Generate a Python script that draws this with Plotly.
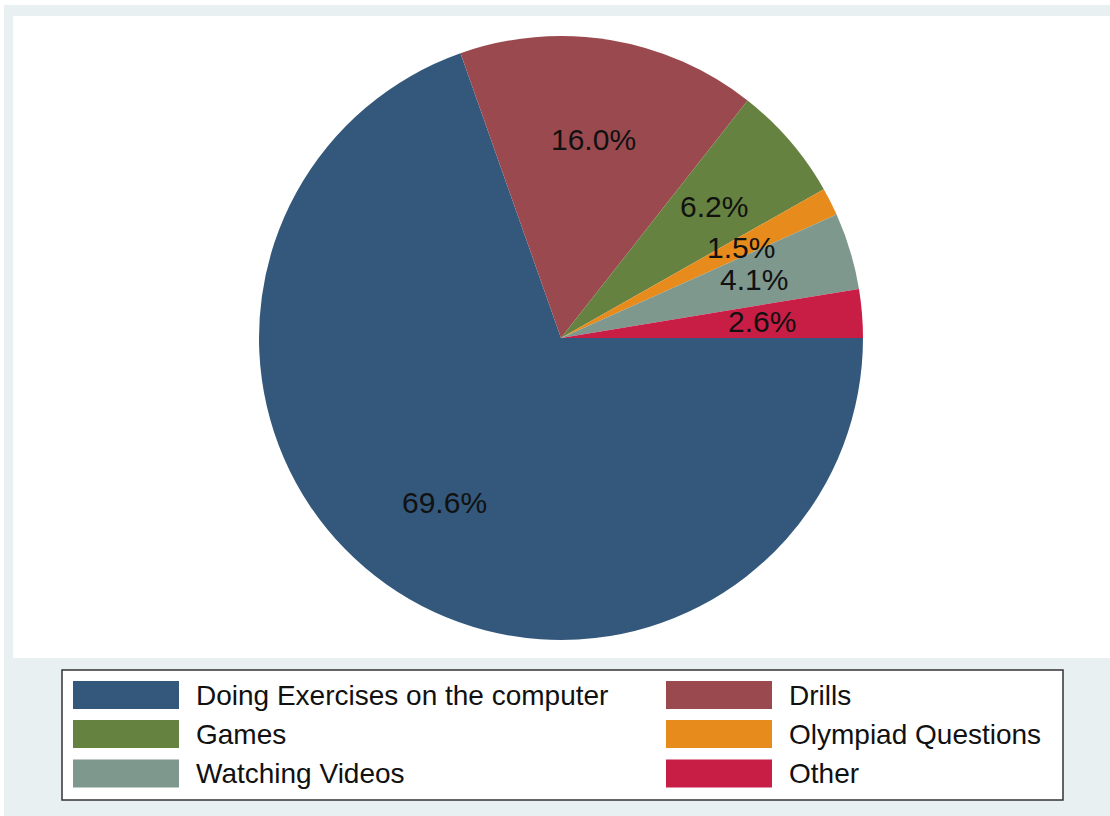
import math
import plotly.graph_objects as go

# Share of time spent on each computer activity (percent)
categories = [
    "Doing Exercises on the computer",
    "Drills",
    "Games",
    "Olympiad Questions",
    "Watching Videos",
    "Other",
]
shares = [69.6, 16.0, 6.2, 1.5, 4.1, 2.6]
colors = ["#33587c", "#9a4a4f", "#668240", "#e78b1d", "#7e988e", "#c81e46"]

W, H = 1110, 816
FONT = "Liberation Sans, Arial, sans-serif"


def px(x):
    return x / W


def py(y):
    return 1 - y / H


# pie geometry in page pixels
cx, cy, R = 561, 338, 302

fig = go.Figure()
fig.add_trace(
    go.Pie(
        labels=categories,
        values=shares,
        sort=False,
        direction="clockwise",
        rotation=90,
        marker=dict(colors=colors, line=dict(width=0)),
        textinfo="none",
        hoverinfo="label+percent",
        showlegend=False,
        domain=dict(x=[px(cx - R), px(cx + R)], y=[py(cy + R), py(cy - R)]),
    )
)

shapes = [
    # outer graph region
    dict(type="rect", xref="paper", yref="paper", x0=px(4), x1=px(W), y0=py(H), y1=py(5),
         fillcolor="#e9f0f2", line=dict(width=0), layer="below"),
    # plot region
    dict(type="rect", xref="paper", yref="paper", x0=px(13), x1=px(W), y0=py(658), y1=py(16),
         fillcolor="white", line=dict(width=0), layer="below"),
    # legend frame
    dict(type="rect", xref="paper", yref="paper", x0=px(62), x1=px(1063), y0=py(800), y1=py(670),
         fillcolor="white", line=dict(color="#333333", width=1.5), layer="below"),
]

annotations = []

# percentage labels at two thirds of the radius, slice midpoints going clockwise from 3 o'clock
total = sum(shares)
cum = 0.0
for v in shares:
    mid = -(cum + v / 2) / total * 2 * math.pi
    cum += v
    lx = cx + 0.667 * R * math.cos(mid)
    ly = cy - 0.667 * R * math.sin(mid)
    annotations.append(dict(
        x=px(lx), y=py(ly), xref="paper", yref="paper", text=f"{v:.1f}%",
        showarrow=False, xanchor="center", yanchor="middle",
        font=dict(family=FONT, size=30, color="#111111"),
    ))

# two-column legend
col_x = [73, 666]
swatch_w = 106
row_y = [695, 734, 773.5]
for i, (name, col) in enumerate(zip(categories, colors)):
    r, c = divmod(i, 2)
    x0 = col_x[c]
    yc = row_y[r]
    shapes.append(dict(
        type="rect", xref="paper", yref="paper",
        x0=px(x0), x1=px(x0 + swatch_w), y0=py(yc + 14), y1=py(yc - 14),
        fillcolor=col, line=dict(width=0),
    ))
    annotations.append(dict(
        x=px(x0 + swatch_w + 15), y=py(yc), xref="paper", yref="paper", text=name,
        showarrow=False, xanchor="left", yanchor="middle",
        font=dict(family=FONT, size=28, color="#111111"),
    ))

fig.update_layout(
    width=W,
    height=H,
    margin=dict(l=0, r=0, t=0, b=0),
    paper_bgcolor="white",
    plot_bgcolor="white",
    shapes=shapes,
    annotations=annotations,
)

fig.write_html("out.html")
